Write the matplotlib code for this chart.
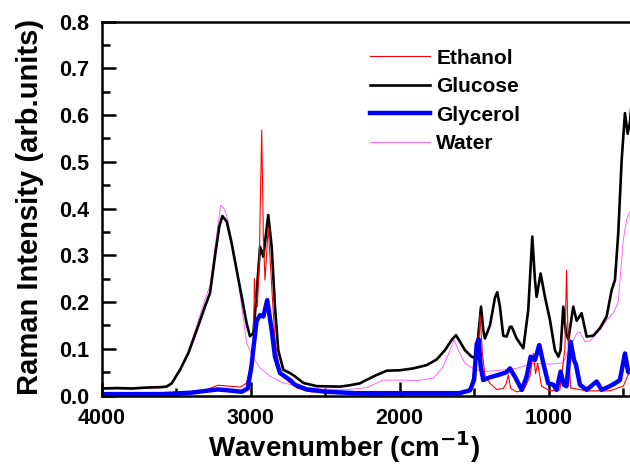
import matplotlib
matplotlib.use('Agg')

import matplotlib.pyplot as plt
from matplotlib.ticker import MultipleLocator

plt.rcParams['font.family'] = ['Liberation Sans', 'DejaVu Sans']
plt.rcParams['font.weight'] = 'bold'

# Raman spectra (wavenumber in cm-1, intensity in arb. units)
glucose_wn = [4000, 3900, 3800, 3700, 3600, 3564, 3530, 3474, 3418, 3362, 3307, 3273, 3240,
              3211, 3190, 3161, 3128, 3094, 3060, 3027, 3005, 2982, 2960, 2937, 2915, 2882,
              2859, 2837, 2815, 2781, 2736, 2703, 2647, 2557, 2401, 2334, 2267, 2244, 2154,
              2087, 1998, 1909, 1819, 1752, 1696, 1651, 1622, 1595, 1562, 1517, 1488, 1472,
              1454, 1439, 1428, 1394, 1360, 1345, 1327, 1305, 1282, 1260, 1248, 1215, 1170,
              1137, 1110, 1092, 1081, 1054, 1025, 991, 958, 935, 920, 902, 884, 868, 835,
              812, 779, 745, 701, 656, 611, 577, 555, 533, 510, 488, 470, 454, 440]
glucose_int = [0.015, 0.016, 0.015, 0.017, 0.018, 0.019, 0.026, 0.055, 0.091, 0.140, 0.190,
               0.219, 0.297, 0.361, 0.384, 0.372, 0.326, 0.268, 0.211, 0.154, 0.127, 0.133,
               0.219, 0.318, 0.297, 0.386, 0.318, 0.190, 0.097, 0.055, 0.048, 0.041, 0.027,
               0.020, 0.019, 0.022, 0.026, 0.030, 0.044, 0.053, 0.054, 0.058, 0.065, 0.077,
               0.097, 0.119, 0.129, 0.115, 0.097, 0.083, 0.080, 0.130, 0.190, 0.140, 0.122,
               0.150, 0.210, 0.221, 0.190, 0.128, 0.126, 0.147, 0.147, 0.122, 0.101, 0.183,
               0.340, 0.247, 0.211, 0.261, 0.211, 0.161, 0.097, 0.083, 0.097, 0.190, 0.134,
               0.120, 0.190, 0.160, 0.176, 0.126, 0.128, 0.144, 0.169, 0.226, 0.247, 0.347,
               0.504, 0.604, 0.560, 0.585, 0.640]

water_wn = [4000, 3800, 3600, 3530, 3474, 3418, 3362, 3307, 3273, 3240, 3211, 3200, 3180,
            3161, 3128, 3094, 3060, 3027, 2982, 2937, 2870, 2781, 2670, 2513, 2334, 2222,
            2110, 1998, 1886, 1774, 1707, 1662, 1635, 1606, 1562, 1506, 1439, 1327, 1215,
            1103, 991, 902, 857, 812, 790, 756, 723, 656, 611, 567, 533, 499, 477, 460, 440]
water_int = [0.013, 0.014, 0.016, 0.027, 0.057, 0.094, 0.150, 0.205, 0.235, 0.315, 0.385,
             0.407, 0.400, 0.385, 0.335, 0.270, 0.190, 0.112, 0.080, 0.059, 0.041, 0.027,
             0.019, 0.0135, 0.013, 0.017, 0.033, 0.033, 0.032, 0.037, 0.062, 0.097, 0.119,
             0.097, 0.069, 0.058, 0.051, 0.054, 0.058, 0.069, 0.067, 0.070, 0.104, 0.133,
             0.136, 0.115, 0.117, 0.140, 0.161, 0.176, 0.200, 0.333, 0.375, 0.390, 0.400]

ethanol_wn = [4000, 3500, 3400, 3300, 3220, 3150, 3070, 3030, 3000, 2982, 2975, 2968, 2955,
              2942, 2933, 2926, 2920, 2915, 2904, 2882, 2859, 2837, 2803, 2758, 2740, 2725,
              2710, 2690, 2600, 2400, 2000, 1600, 1528, 1494, 1475, 1460, 1445, 1428, 1394,
              1349, 1305, 1285, 1271, 1255, 1215, 1170, 1126, 1103, 1088, 1074, 1048, 991,
              925, 891, 880, 868, 852, 745, 589, 499, 466, 440]
ethanol_int = [0.002, 0.003, 0.005, 0.012, 0.022, 0.020, 0.018, 0.026, 0.060, 0.090, 0.250,
               0.200, 0.190, 0.290, 0.450, 0.568, 0.450, 0.340, 0.247, 0.361, 0.233, 0.120,
               0.048, 0.034, 0.028, 0.033, 0.025, 0.016, 0.008, 0.005, 0.004, 0.004, 0.015,
               0.060, 0.090, 0.172, 0.090, 0.044, 0.026, 0.013, 0.015, 0.025, 0.044, 0.015,
               0.008, 0.010, 0.040, 0.090, 0.047, 0.069, 0.020, 0.010, 0.012, 0.100, 0.268,
               0.100, 0.016, 0.010, 0.010, 0.020, 0.045, 0.050]

glycerol_wn = [4000, 3600, 3400, 3300, 3220, 3150, 3060, 3020, 2995, 2982, 2960, 2937, 2915,
               2889, 2859, 2837, 2803, 2736, 2703, 2625, 2490, 2300, 1600, 1528, 1501, 1483,
               1470, 1456, 1439, 1394, 1327, 1282, 1260, 1226, 1181, 1148, 1121, 1092, 1063,
               1036, 1003, 969, 947, 920, 898, 880, 852, 830, 817, 790, 745, 678, 645, 589,
               555, 522, 488, 466, 440]
glycerol_int = [0.003, 0.003, 0.006, 0.010, 0.013, 0.011, 0.008, 0.015, 0.062, 0.100, 0.160,
                0.172, 0.169, 0.204, 0.140, 0.083, 0.048, 0.033, 0.023, 0.013, 0.008, 0.005,
                0.005, 0.011, 0.033, 0.110, 0.120, 0.062, 0.033, 0.039, 0.045, 0.050, 0.058,
                0.040, 0.012, 0.040, 0.083, 0.076, 0.108, 0.069, 0.026, 0.023, 0.012, 0.051,
                0.023, 0.020, 0.115, 0.076, 0.066, 0.023, 0.012, 0.030, 0.012, 0.020, 0.026,
                0.033, 0.090, 0.050, 0.055]

fig = plt.figure(figsize=(6.3, 4.68), dpi=100)
# axes runs a little past the right edge, like the cropped original
ax = fig.add_axes([0.1614, 0.1549, 0.8514, 0.7991])

l_water, = ax.plot(water_wn, water_int, color='#ff66ff', lw=0.7, label='Water')
l_glu, = ax.plot(glucose_wn, glucose_int, color='black', lw=1.9, label='Glucose')
l_eth, = ax.plot(ethanol_wn, ethanol_int, color='#ff0000', lw=0.8, label='Ethanol')
l_gly, = ax.plot(glycerol_wn, glycerol_int, color='#0000ff', lw=3.2, label='Glycerol')

ax.set_xlim(4000, 400)
ax.set_ylim(0, 0.8)
ax.xaxis.set_major_locator(MultipleLocator(1000))
ax.xaxis.set_minor_locator(MultipleLocator(500))
ax.yaxis.set_major_locator(MultipleLocator(0.1))
ax.yaxis.set_minor_locator(MultipleLocator(0.05))

ax.tick_params(which='both', direction='in', width=1.8, labelsize=15.5, pad=9)
ax.tick_params(which='major', length=10)
ax.tick_params(which='minor', length=6)
for lab in ax.get_xticklabels() + ax.get_yticklabels():
    lab.set_fontweight('bold')
for sp in ax.spines.values():
    sp.set_linewidth(1.8)

ax.set_xlabel('Wavenumber (cm$^{\\mathbf{-1}}$)', fontsize=20, fontweight='bold')
ax.set_ylabel('Raman Intensity (arb.units)', fontsize=21, fontweight='bold')
ax.xaxis.set_label_coords(0.451, -0.09)
ax.yaxis.set_label_coords(-0.108, 0.505)

leg = ax.legend(handles=[l_eth, l_glu, l_gly, l_water], loc='upper left',
                bbox_to_anchor=(0.48, 0.955), frameon=False, fontsize=15,
                handlelength=2.9, handletextpad=0.3, labelspacing=0.45, borderpad=0)
for t in leg.get_texts():
    t.set_fontweight('bold')

fig.savefig('out.png', dpi=100)
